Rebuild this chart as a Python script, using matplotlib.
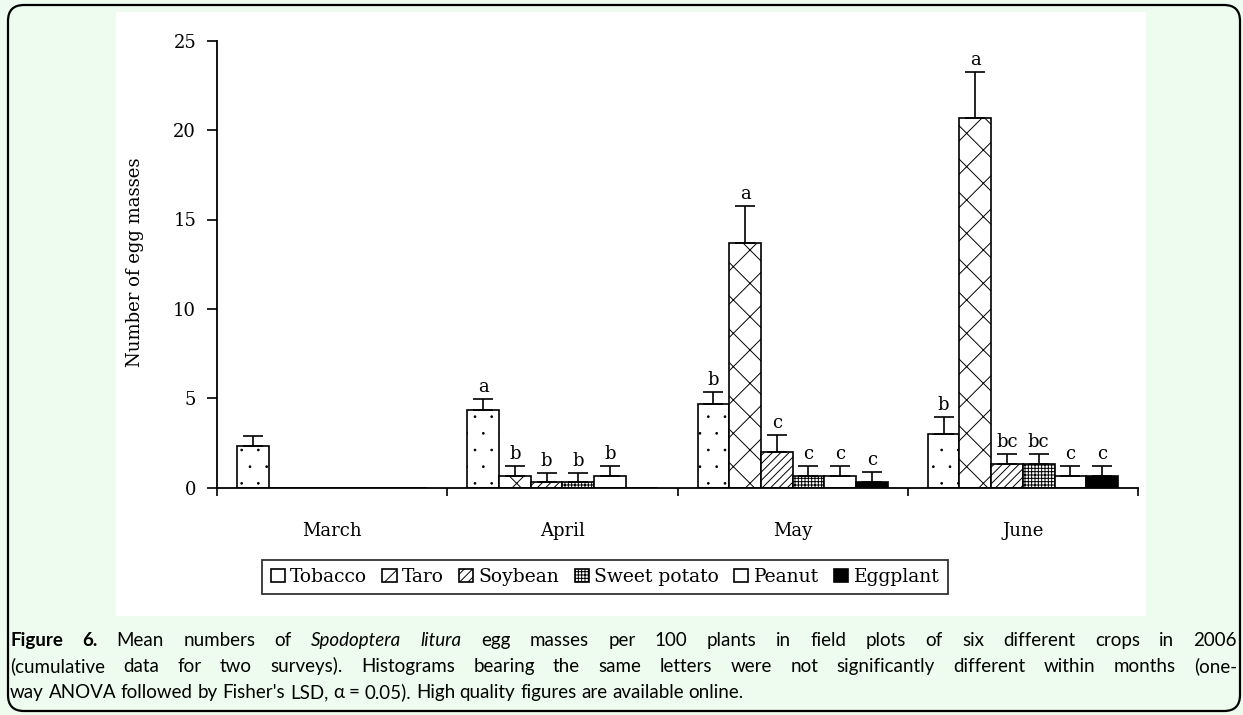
import matplotlib
matplotlib.use("Agg")
import matplotlib.hatch
import matplotlib.pyplot as plt
import numpy as np
from matplotlib.patches import FancyBboxPatch, Rectangle
from matplotlib.transforms import IdentityTransform

months = ["March", "April", "May", "June"]
crops = ["Tobacco", "Taro", "Soybean", "Sweet potato", "Peanut", "Eggplant"]

# mean egg masses per 100 plants (nan = no bar drawn)
tobacco = [2.33, 4.33, 4.67, 3.00]
taro = [np.nan, 0.67, 13.67, 20.67]
soybean = [np.nan, 0.33, 2.00, 1.33]
sweet_potato = [np.nan, 0.33, 0.67, 1.33]
peanut = [np.nan, 0.67, 0.67, 0.67]
eggplant = [np.nan, np.nan, 0.33, 0.67]

# standard errors (upper whisker only)
tobacco_se = [0.56, 0.65, 0.67, 0.95]
taro_se = [np.nan, 0.55, 2.08, 2.58]
soybean_se = [np.nan, 0.52, 0.97, 0.56]
sweet_potato_se = [np.nan, 0.52, 0.56, 0.56]
peanut_se = [np.nan, 0.55, 0.56, 0.56]
eggplant_se = [np.nan, np.nan, 0.56, 0.56]

# LSD letters
tobacco_lsd = ["", "a", "b", "b"]
taro_lsd = ["", "b", "a", "a"]
soybean_lsd = ["", "b", "c", "bc"]
sweet_potato_lsd = ["", "b", "c", "bc"]
peanut_lsd = ["", "b", "c", "c"]
eggplant_lsd = ["", "", "c", "c"]

means = [tobacco, taro, soybean, sweet_potato, peanut, eggplant]
errors = [tobacco_se, taro_se, soybean_se, sweet_potato_se, peanut_se, eggplant_se]
lsd = [tobacco_lsd, taro_lsd, soybean_lsd, sweet_potato_lsd, peanut_lsd, eggplant_lsd]

hatches = [".", "x", "////", "+++++", "", ""]
faces = ["white", "white", "white", "white", "white", "black"]

W, H = 1243, 715
BG = "#edfcee"
serif = "DejaVu Serif"
plt.rcParams["hatch.linewidth"] = 0.7
matplotlib.hatch.SmallFilledCircles.size = 0.05  # smaller dots, like the original

fig = plt.figure(figsize=(W / 100, H / 100), dpi=100, facecolor=BG)

# white panel behind the chart and rounded frame (pixel coordinates)
fig.add_artist(Rectangle((116, H - 616), 1030, 604, transform=IdentityTransform(),
                         facecolor="white", edgecolor="none", zorder=0))
fig.add_artist(FancyBboxPatch((8, 4), 1232, 706, boxstyle="round,pad=0,rounding_size=16",
                              transform=IdentityTransform(), facecolor="none",
                              edgecolor="black", linewidth=1.6, zorder=1))

ax = fig.add_axes([217 / W, 1 - 487.7 / H, 921 / W, 447 / H])
ax.patch.set_visible(False)

pad = 0.087
bw = (1 - 2 * pad) / len(crops)
base = np.arange(len(months))

for j, crop in enumerate(crops):
    x = base + pad + bw * j + bw / 2
    y = np.array(means[j], dtype=float)
    e = np.array(errors[j], dtype=float)
    ax.bar(x, np.nan_to_num(y), bw, color=faces[j], edgecolor="black",
           linewidth=1.2, hatch=hatches[j], label=crop, zorder=2)
    ok = ~np.isnan(y)
    ax.errorbar(x[ok], y[ok], yerr=[np.zeros(ok.sum()), e[ok]], fmt="none",
                ecolor="black", elinewidth=1.2, capsize=7, capthick=1.2, zorder=3)
    for i in range(len(months)):
        if lsd[j][i]:
            ax.annotate(lsd[j][i], (x[i], y[i] + e[i]), xytext=(0, 5),
                        textcoords="offset points", ha="center", va="baseline",
                        fontsize=13, family=serif)

ax.set_xlim(0, len(months))
ax.set_ylim(0, 25)
ax.set_yticks([0, 5, 10, 15, 20, 25])
ax.set_xticks(np.arange(len(months) + 1))
ax.set_xticklabels([])
ax.set_xticks(base + 0.5, minor=True)
ax.set_xticklabels(months, minor=True, fontsize=13, family=serif)
ax.tick_params(axis="x", which="major", direction="out", length=6, width=1.2)
ax.tick_params(axis="x", which="minor", length=0, pad=25)
ax.tick_params(axis="y", direction="out", length=7, width=1.2, pad=8, labelsize=13)
for lab in ax.get_yticklabels():
    lab.set_family(serif)
for s in ["top", "right"]:
    ax.spines[s].set_visible(False)
for s in ["left", "bottom"]:
    ax.spines[s].set_linewidth(1.3)

fig.text(135 / W, 1 - 262 / H, "Number of egg masses", rotation=90, ha="center",
         va="center", fontsize=13, family=serif)

leg = ax.legend(loc="center", bbox_to_anchor=(605 / W, 1 - 577 / H),
                bbox_transform=fig.transFigure, ncol=6, frameon=True, fancybox=False,
                edgecolor="black", prop={"family": serif, "size": 13.5},
                handlelength=0.75, handleheight=0.75, handletextpad=0.3,
                columnspacing=0.8, borderpad=0.45)
leg.get_frame().set_linewidth(1.3)

# caption, set word by word so the first two lines can be justified
cap_font = ["Lato", "DejaVu Sans"]
cap_size = 13.5
caption = [
    [("Figure 6.", "bold", "normal"), ("Mean numbers of", "normal", "normal"),
     ("Spodoptera litura", "normal", "italic"),
     ("egg masses per 100 plants in field plots of six different crops in 2006", "normal", "normal")],
    [("(cumulative data for two surveys).  Histograms bearing the same letters were not "
      "significantly different within months (one-", "normal", "normal")],
    [("way ANOVA followed by Fisher's LSD, \u03b1 = 0.05). High quality figures are available online.",
      "normal", "normal")],
]
line_base = [646, 672, 698]
x0, x1 = 10, 1237

fig.canvas.draw()
rend = fig.canvas.get_renderer()
probe = fig.text(0, 0, "x x", fontsize=cap_size, family=cap_font)
w2 = probe.get_window_extent(rend).width
probe.set_text("xx")
space = w2 - probe.get_window_extent(rend).width
probe.remove()

for k, line in enumerate(caption):
    words = []
    for txt, weight, style in line:
        for wd in txt.split():
            t = fig.text(0, 1 - line_base[k] / H, wd, fontsize=cap_size, family=cap_font,
                         weight=weight, style=style, va="baseline", ha="left")
            words.append((t, t.get_window_extent(rend).width))
    total = sum(w for _, w in words)
    gap = space
    if k < 2 and len(words) > 1:
        gap = (x1 - x0 - total) / (len(words) - 1)
    xp = x0
    for t, w in words:
        t.set_x(xp / W)
        xp += w + gap

fig.savefig("out.png", dpi=100, facecolor=BG)
